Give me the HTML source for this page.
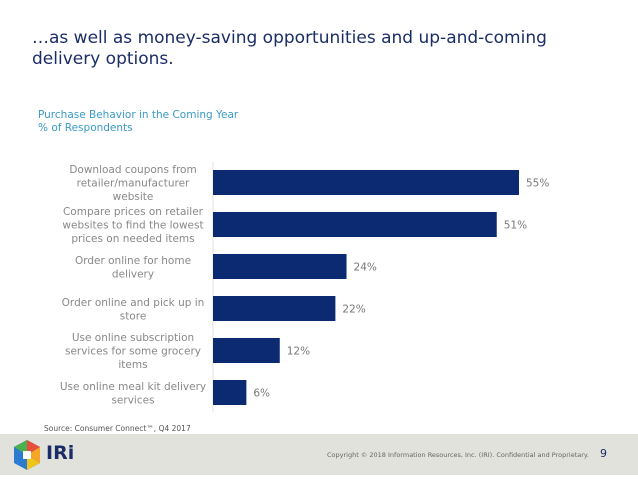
<!DOCTYPE html>
<html><head><meta charset="utf-8"><style>
body{margin:0;width:638px;height:479px;overflow:hidden;background:#fff;font-family:"DejaVu Sans","Liberation Sans",sans-serif;position:relative}
.t{position:absolute;left:32px;top:28px;font-size:17px;line-height:21px;color:#1b2d66}
.s{position:absolute;left:38px;top:109px;font-size:10.5px;line-height:13px;color:#3a9ac6}
.src{position:absolute;left:44px;top:424px;font-size:7.5px;color:#555}
.foot{position:absolute;left:0;top:434px;width:638px;height:41px;background:#e2e2dd}
</style></head><body>
<div class="t">…as well as money-saving opportunities and up-and-coming<br>delivery options.</div>
<div class="s">Purchase Behavior in the Coming Year<br>% of Respondents</div>
<svg id="c" width="638" height="430" style="position:absolute;left:0;top:0"></svg>
<div class="src">Source: Consumer Connect™, Q4 2017</div>
<div class="foot">
<svg width="30" height="32" style="position:absolute;left:12px;top:5px">
<polygon points="15,1 28,8 28,24 15,31 2,24 2,8" fill="#2b7bd0"/><polygon points="15,1 28,8 15,16" fill="#e94e3c"/><polygon points="28,8 28,24 15,16" fill="#f6a623"/><polygon points="2,8 15,1 15,16" fill="#4caf50"/><polygon points="15,16 28,24 15,31" fill="#f0c419"/><rect x="11" y="12" width="8" height="8" fill="#fff"/></svg>
<div style="position:absolute;left:46px;top:8px;font-size:19px;font-weight:bold;color:#1b2d66">IRi</div>
<div style="position:absolute;left:327px;top:17px;font-size:6.5px;color:#666">Copyright © 2018 Information Resources, Inc. (IRI). Confidential and Proprietary.</div>
<div style="position:absolute;left:600px;top:13px;font-size:11px;color:#1b2d66">9</div>
</div>
<script>
const categories=[["Download coupons from","retailer/manufacturer","website"],["Compare prices on retailer","websites to find the lowest","prices on needed items"],["Order online for home","delivery"],["Order online and pick up in","store"],["Use online subscription","services for some grocery","items"],["Use online meal kit delivery","services"]];
const values=[55,51,24,22,12,6];
const valueLabels=["55%","51%","24%","22%","12%","6%"];
const NS="http://www.w3.org/2000/svg",svg=document.getElementById('c');
const x0=213,pxPer=306/55,y0=170,step=42,bh=25;
const xs=v=>x0+v*pxPer, ys=i=>y0+i*step;
function mk(t,a){const e=document.createElementNS(NS,t);for(const k in a)e.setAttribute(k,a[k]);svg.appendChild(e);return e;}
const ax=mk('line',{x1:x0,x2:x0,y1:162,y2:412,stroke:'#e0e0e0','stroke-width':1});


values.forEach((v,i)=>{
 const r=mk('rect',{x:x0,y:ys(i),width:xs(v)-x0,height:bh,fill:'#0c2a72'});
 
 
 const t=mk('text',{x:xs(v)+7,y:ys(i)+bh/2+4,'font-size':'10.5',fill:'#777'});
 t.textContent=valueLabels[i];
 
 
 const lines=categories[i],lh=13.5,cy=ys(i)+bh/2,start=cy-(lines.length-1)*lh/2+4;
 const g=mk('text',{x:203,'text-anchor':'middle','font-size':'10.5',fill:'#888'});
 
 
 lines.forEach((l,j)=>{const s=document.createElementNS(NS,'tspan');s.setAttribute('x',133);s.setAttribute('y',start+j*lh);s.textContent=l;g.appendChild(s);});
});
</script>
</body></html>
